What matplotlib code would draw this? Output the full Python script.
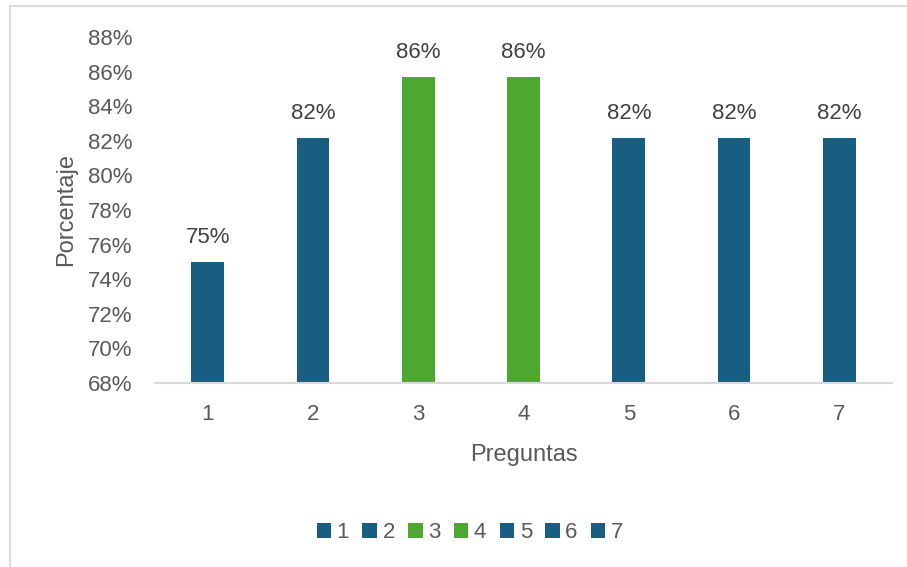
import matplotlib
matplotlib.use("Agg")
import matplotlib.pyplot as plt
from matplotlib.lines import Line2D
from matplotlib.ticker import PercentFormatter

plt.rcParams['font.family'] = ['Liberation Sans', 'DejaVu Sans']

categories = ["1", "2", "3", "4", "5", "6", "7"]
values = [0.75, 0.8214, 0.8571, 0.8571, 0.8214, 0.8214, 0.8214]
colors = ["#175E82", "#175E82", "#4EA72E", "#4EA72E", "#175E82", "#175E82", "#175E82"]
y_ticks = [0.68, 0.70, 0.72, 0.74, 0.76, 0.78, 0.80, 0.82, 0.84, 0.86, 0.88]

text_color = "#595959"
fs = 16

fig = plt.figure(figsize=(9.07, 5.67), dpi=100)
fig.patch.set_facecolor("white")
ax = fig.add_axes([155 / 907, 1 - 383 / 567, (892 - 155) / 907, (383 - 37) / 567])

x = list(range(len(categories)))
for i, (cat, val, col) in enumerate(zip(categories, values, colors)):
    bars = ax.bar(x[i], val, width=0.31, color=col, label=cat, zorder=2)
    ax.bar_label(bars, labels=[f"{round(val * 100):.0f}%"], padding=10,
                 fontsize=fs, color="#404040")

ax.set_ylim(y_ticks[0], y_ticks[-1])
ax.set_xlim(-0.5, len(categories) - 0.5)
ax.set_yticks(y_ticks)
ax.yaxis.set_major_formatter(PercentFormatter(1.0, decimals=0))
ax.set_xticks(x)
ax.set_xticklabels(categories)
ax.tick_params(axis="both", length=0, labelsize=fs, labelcolor=text_color)
ax.tick_params(axis="y", pad=16)
ax.tick_params(axis="x", pad=15)

for s in ["top", "right", "left"]:
    ax.spines[s].set_visible(False)
ax.spines["bottom"].set_color("#D9D9D9")
ax.spines["bottom"].set_linewidth(1.5)

ax.set_ylabel("Porcentaje", fontsize=fs + 1, color=text_color, labelpad=8)
ax.set_xlabel("Preguntas", fontsize=fs + 1, color=text_color, labelpad=14)

leg = fig.legend(loc="center", bbox_to_anchor=(470 / 907, 1 - 533 / 567), ncol=7,
                 frameon=False, fontsize=fs, handlelength=0.65, handleheight=0.65,
                 handletextpad=0.25, columnspacing=0.6)
for t in leg.get_texts():
    t.set_color(text_color)

# chart-area frame
fig.add_artist(Line2D([10 / 907, 10 / 907], [0, 1 - 6 / 567], color="#D9D9D9", lw=1.5,
                      transform=fig.transFigure))
fig.add_artist(Line2D([10 / 907, 1], [1 - 6 / 567, 1 - 6 / 567], color="#D9D9D9", lw=1.5,
                      transform=fig.transFigure))

fig.savefig("out.png", dpi=100, facecolor="white")
